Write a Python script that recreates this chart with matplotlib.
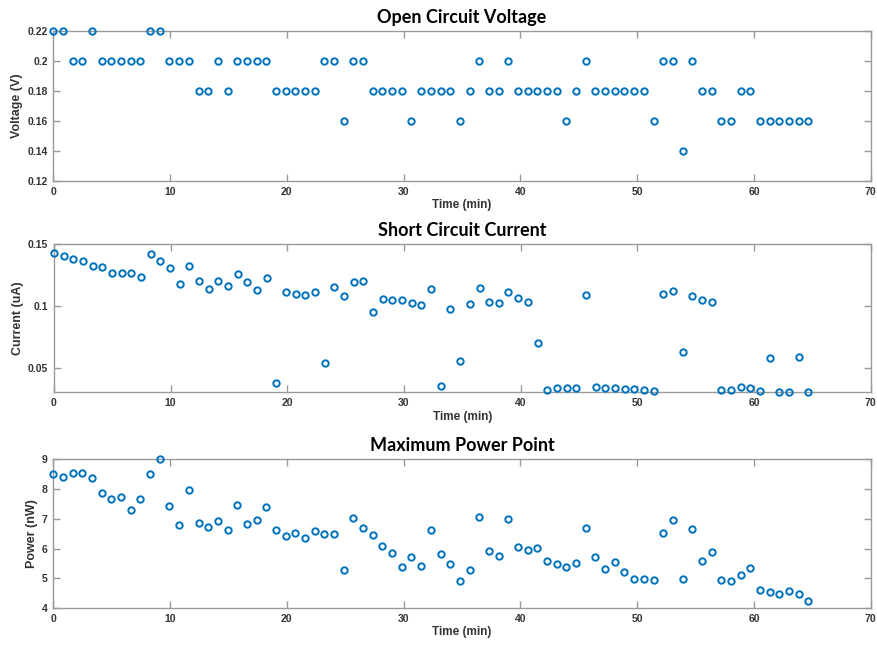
import numpy as np
import matplotlib
matplotlib.use('Agg')
import matplotlib.pyplot as plt

# sample times (min)
time_min = [0.00, 0.83, 1.66, 2.49, 3.32, 4.15, 4.97, 5.80, 6.63, 7.46,
            8.29, 9.12, 9.95, 10.78, 11.61, 12.44, 13.26, 14.09, 14.92, 15.75,
            16.58, 17.41, 18.24, 19.07, 19.90, 20.73, 21.55, 22.38, 23.21, 24.04,
            24.87, 25.70, 26.53, 27.36, 28.19, 29.02, 29.84, 30.67, 31.50, 32.33,
            33.16, 33.99, 34.82, 35.65, 36.48, 37.31, 38.13, 38.96, 39.79, 40.62,
            41.45, 42.28, 43.11, 43.94, 44.77, 45.60, 46.42, 47.25, 48.08, 48.91,
            49.74, 50.57, 51.40, 52.23, 53.06, 53.89, 54.71, 55.54, 56.37, 57.20,
            58.03, 58.86, 59.69, 60.52, 61.35, 62.18, 63.00, 63.83, 64.66]

# open circuit voltage (V)
voc = [0.22, 0.22, 0.20, 0.20, 0.22, 0.20, 0.20, 0.20, 0.20, 0.20,
       0.22, 0.22, 0.20, 0.20, 0.20, 0.18, 0.18, 0.20, 0.18, 0.20,
       0.20, 0.20, 0.20, 0.18, 0.18, 0.18, 0.18, 0.18, 0.20, 0.20,
       0.16, 0.20, 0.20, 0.18, 0.18, 0.18, 0.18, 0.16, 0.18, 0.18,
       0.18, 0.18, 0.16, 0.18, 0.20, 0.18, 0.18, 0.20, 0.18, 0.18,
       0.18, 0.18, 0.18, 0.16, 0.18, 0.20, 0.18, 0.18, 0.18, 0.18,
       0.18, 0.18, 0.16, 0.20, 0.20, 0.14, 0.20, 0.18, 0.18, 0.16,
       0.16, 0.18, 0.18, 0.16, 0.16, 0.16, 0.16, 0.16, 0.16]

# short circuit current (uA)
isc = [0.1433, 0.1409, 0.1382, 0.1363, 0.1325, 0.1312, 0.1266, 0.1266, 0.1266, 0.1237,
       0.1419, 0.1363, 0.1304, 0.1180, 0.1325, 0.1202, 0.1137, 0.1202, 0.1161, 0.1263,
       0.1194, 0.1132, 0.1226, 0.0376, 0.1113, 0.1099, 0.1091, 0.1116, 0.0540, 0.1150,
       0.1078, 0.1196, 0.1202, 0.0952, 0.1059, 0.1046, 0.1046, 0.1027, 0.1008, 0.1140,
       0.0352, 0.0976, 0.0551, 0.1016, 0.1145, 0.1030, 0.1024, 0.1116, 0.1062, 0.1035,
       0.0699, 0.0320, 0.0336, 0.0333, 0.0336, 0.1089, 0.0344, 0.0333, 0.0336, 0.0325,
       0.0325, 0.0320, 0.0314, 0.1097, 0.1118, 0.0629, 0.1083, 0.1051, 0.1032, 0.0320,
       0.0320, 0.0339, 0.0331, 0.0314, 0.0578, 0.0304, 0.0306, 0.0586, 0.0301]

# maximum power point (nW)
pmax = [8.51, 8.39, 8.53, 8.54, 8.37, 7.88, 7.67, 7.73, 7.31, 7.67,
        8.51, 9.00, 7.44, 6.78, 7.96, 6.86, 6.74, 6.94, 6.63, 7.45,
        6.84, 6.97, 7.41, 6.61, 6.43, 6.53, 6.34, 6.58, 6.49, 6.49,
        5.28, 7.03, 6.69, 6.44, 6.09, 5.84, 5.38, 5.73, 5.41, 6.63,
        5.82, 5.49, 4.90, 5.29, 7.06, 5.93, 5.74, 7.00, 6.05, 5.94,
        6.03, 5.58, 5.49, 5.38, 5.52, 6.69, 5.70, 5.30, 5.56, 5.22,
        4.99, 4.96, 4.94, 6.52, 6.97, 4.96, 6.67, 5.58, 5.87, 4.95,
        4.92, 5.12, 5.33, 4.62, 4.53, 4.46, 4.56, 4.47, 4.22]

titles = ['Open Circuit Voltage', 'Short Circuit Current', 'Maximum Power Point']
ylabels = ['Voltage (V)', 'Current (uA)', 'Power (nW)']
ylims = [(0.12, 0.22), (0.03, 0.15), (4, 9)]
yticks = [[0.12, 0.14, 0.16, 0.18, 0.2, 0.22],
          [0.05, 0.1, 0.15],
          [4, 5, 6, 7, 8, 9]]
yticklabels = [['0.12', '0.14', '0.16', '0.18', '0.2', '0.22'],
               ['0.05', '0.1', '0.15'],
               ['4', '5', '6', '7', '8', '9']]
xticks = [0, 10, 20, 30, 40, 50, 60, 70]

# axes boxes in figure fractions: left, bottom, width, height
boxes = [[0.0607, 0.7202, 0.9310, 0.2318],
         [0.0613, 0.3937, 0.9304, 0.2287],
         [0.0607, 0.0603, 0.9310, 0.2298]]

blue = '#0072BD'
edge = '#9a9a9a'
txt = '#333333'

fig = plt.figure(figsize=(8.78, 6.47), dpi=100)

for k, yy in enumerate([voc, isc, pmax]):
    ax = fig.add_axes(boxes[k])
    ax.plot(time_min, yy, 'o', ls='none', mfc='none', mec=blue,
            ms=4.6, mew=1.4, clip_on=False, zorder=3)
    ax.set_xlim(0, 70)
    ax.set_ylim(*ylims[k])
    ax.set_xticks(xticks)
    ax.set_yticks(yticks[k])
    ax.set_yticklabels(yticklabels[k])
    for s in ax.spines.values():
        s.set_color(edge)
        s.set_linewidth(1.0)
    ax.tick_params(direction='in', top=True, right=True, length=5,
                   width=1.0, color=edge, labelcolor=txt, labelsize=7.5, pad=4)
    for lab in ax.get_xticklabels() + ax.get_yticklabels():
        lab.set_fontweight('bold')
        lab.set_fontfamily('Liberation Sans')
    ax.set_xlabel('Time (min)', fontsize=8.5, fontweight='bold', color=txt,
                  family='Liberation Sans', labelpad=2)
    ax.set_ylabel(ylabels[k], fontsize=9, fontweight='bold', color=txt,
                  family='Liberation Sans', labelpad=3)
    ax.set_title(titles[k], fontsize=13, fontweight='bold', family='Lato',
                 color='black', pad=6)

fig.savefig('out.png', dpi=100)
